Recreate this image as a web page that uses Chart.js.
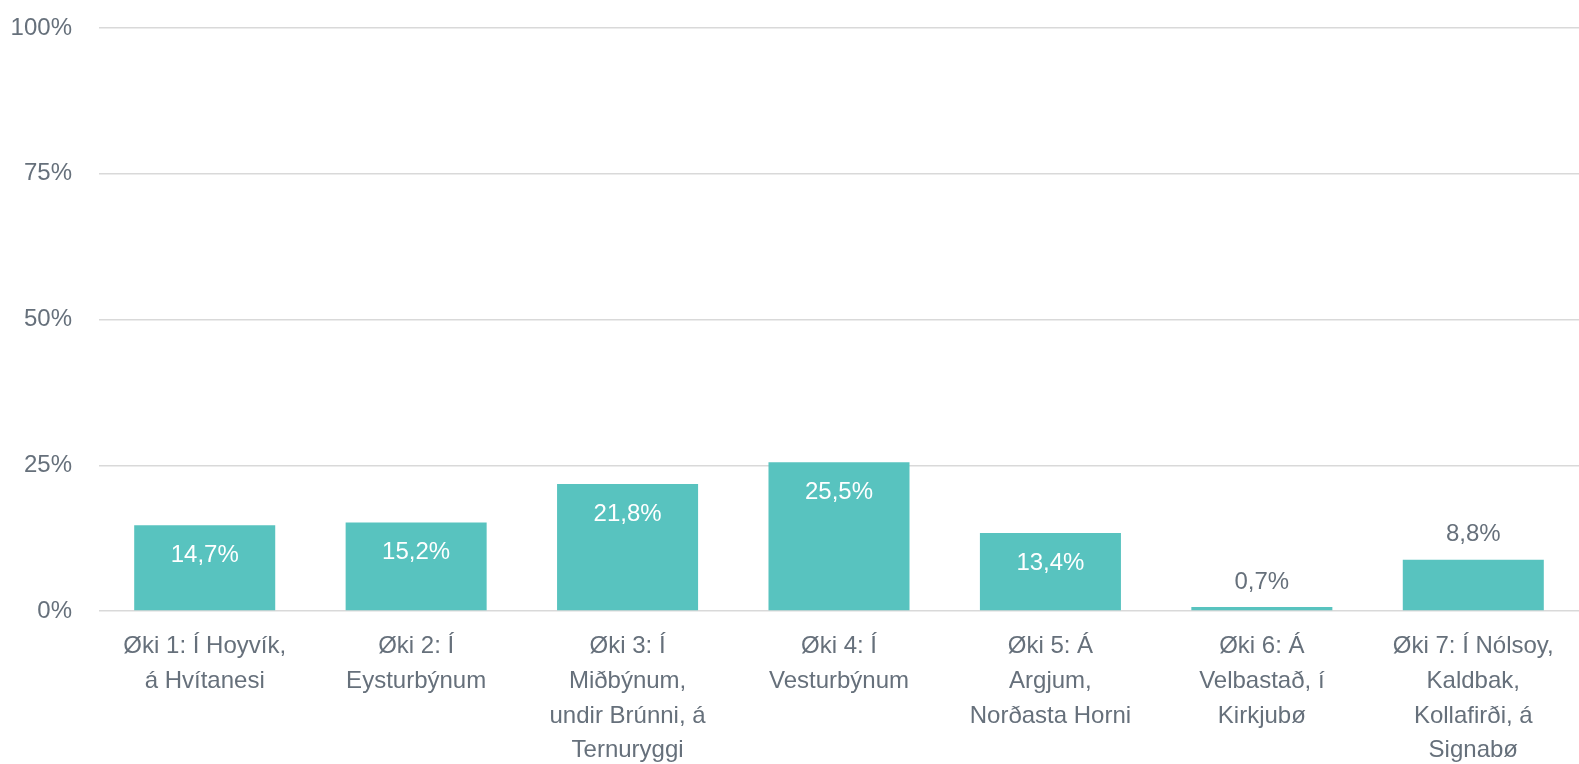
<!DOCTYPE html>
<html>
<head>
<meta charset="utf-8">
<script src="https://cdn.jsdelivr.net/npm/chart.js@4/dist/chart.umd.min.js"></script>
<style>
  html, body { margin: 0; padding: 0; background: #fff; }
  #wrap { width: 1579px; height: 764px; }
</style>
</head>
<body>
<div id="wrap"><canvas id="chart"></canvas></div>
<script>
// Dados
const categories = [
    ['Øki 1: Í Hoyvík,', 'á Hvítanesi'],
    ['Øki 2: Í', 'Eysturbýnum'],
    ['Øki 3: Í', 'Miðbýnum,', 'undir Brúnni, á', 'Ternuryggi'],
    ['Øki 4: Í', 'Vesturbýnum'],
    ['Øki 5: Á', 'Argjum,', 'Norðasta Horni'],
    ['Øki 6: Á', 'Velbastað, í', 'Kirkjubø'],
    ['Øki 7: Í Nólsoy,', 'Kaldbak,', 'Kollafirði, á', 'Signabø']
];
const values = [14.7, 15.2, 21.8, 25.5, 13.4, 0.7, 8.8];
const yTicks = [0, 25, 50, 75, 100];

const FONT = '"Liberation Sans Narrow", "Arial Narrow", "Liberation Sans", sans-serif';
const TEXT_COLOR = '#66707b';
const BAR_COLOR = '#58c3bf';

// Rótulos de valor
const valueLabels = {
    id: 'valueLabels',
    afterDatasetsDraw(chart) {
        const ctx = chart.ctx;
        const meta = chart.getDatasetMeta(0);
        ctx.save();
        ctx.font = '24px ' + FONT;
        ctx.textAlign = 'center';
        ctx.textBaseline = 'middle';
        meta.data.forEach((bar, i) => {
            const v = values[i];
            const text = v.toFixed(1).replace('.', ',') + '%';
            if (v > 10) {
                ctx.fillStyle = '#ffffff';
                ctx.fillText(text, bar.x, bar.y + 30);
            } else {
                ctx.fillStyle = TEXT_COLOR;
                ctx.fillText(text, bar.x, bar.y - 25);
            }
        });
        ctx.restore();
    }
};

new Chart(document.getElementById('chart'), {
    type: 'bar',
    data: {
        labels: categories,
        datasets: [{
            data: values,
            backgroundColor: BAR_COLOR,
            borderWidth: 0,
            categoryPercentage: 1,
            barPercentage: 0.667
        }]
    },
    options: {
        responsive: true,
        maintainAspectRatio: false,
        animation: false,
        layout: { padding: { top: 28, right: 0, left: 0, bottom: 0 } },
        plugins: {
            legend: { display: false },
            tooltip: { enabled: false }
        },
        scales: {
            x: {
                grid: { display: false },
                border: { display: false },
                ticks: {
                    color: TEXT_COLOR,
                    font: { family: FONT, size: 24, lineHeight: 1.45 },
                    padding: 10,
                    maxRotation: 0,
                    autoSkip: false
                },
                afterFit(scale) { scale.height = 153; }
            },
            y: {
                min: 0,
                max: 100,
                afterBuildTicks(scale) {
                    scale.ticks = yTicks.map(v => ({ value: v }));
                },
                grid: { color: '#d9d9d9', lineWidth: 1.5, drawTicks: false },
                border: { display: false },
                ticks: {
                    color: TEXT_COLOR,
                    font: { family: FONT, size: 24 },
                    padding: 27,
                    callback: v => v + '%'
                },
                afterFit(scale) {
                    scale.width = 99;
                    scale.paddingTop = 0;
                    scale.paddingBottom = 0;
                }
            }
        }
    },
    plugins: [valueLabels]
});
</script>
</body>
</html>
